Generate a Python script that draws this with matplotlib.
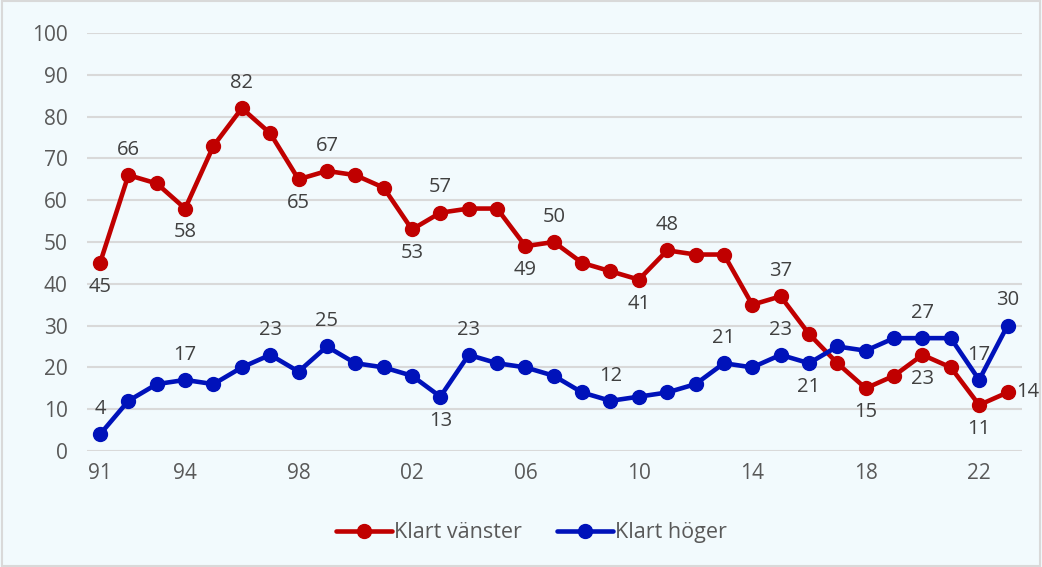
import matplotlib
matplotlib.use("Agg")
import matplotlib.pyplot as plt
from matplotlib.patches import Rectangle

years = list(range(1991, 2024))
left_vals = [45, 66, 64, 58, 73, 82, 76, 65, 67, 66, 63, 53, 57, 58, 58, 49, 50, 45, 43, 41,
             48, 47, 47, 35, 37, 28, 21, 15, 18, 23, 20, 11, 14]
right_vals = [4, 12, 16, 17, 16, 20, 23, 19, 25, 21, 20, 18, 13, 23, 21, 20, 18, 14, 12, 13,
              14, 16, 21, 20, 23, 21, 25, 24, 27, 27, 27, 17, 30]
tick_years = [1991, 1994, 1998, 2002, 2006, 2010, 2014, 2018, 2022]
tick_labels = ["91", "94", "98", "02", "06", "10", "14", "18", "22"]

# labelled points: year -> position
left_labels = {1991: "below", 1992: "above", 1994: "below", 1996: "above", 1998: "below",
               1999: "above", 2002: "below", 2003: "above", 2006: "below", 2007: "above",
               2010: "below", 2011: "above", 2015: "above", 2018: "below", 2020: "below",
               2022: "below", 2023: "right"}
right_labels = {1991: "above", 1994: "above", 1997: "above", 1999: "above", 2003: "below",
                2004: "above", 2009: "above", 2013: "above", 2015: "above", 2016: "below",
                2020: "above", 2022: "above", 2023: "above"}

plt.rcParams['font.family'] = ['Open Sans', 'DejaVu Sans']
bg = "#F2FAFD"
red = "#C00000"
blue = "#0012BA"

fig = plt.figure(figsize=(10.42, 5.67), dpi=100, facecolor=bg)
ax = fig.add_axes([0.0835, 0.2046, 0.897, 0.7372], facecolor=bg)
fig.patches.append(Rectangle((0.002, 0.002), 0.996, 0.996, transform=fig.transFigure,
                             fill=False, edgecolor="#D9D9D9", linewidth=1.5))

ax.plot(years, left_vals, color=red, lw=3.3, marker="o", ms=10, label="Klart vänster",
        solid_capstyle="round", zorder=3)
ax.plot(years, right_vals, color=blue, lw=3.3, marker="o", ms=10, label="Klart höger",
        solid_capstyle="round", zorder=4)

def annotate(vals, labels):
    for y, pos in labels.items():
        v = vals[years.index(y)]
        if pos == "above":
            off, ha, va = (0, 11), "center", "bottom"
        elif pos == "below":
            off, ha, va = (0, -10), "center", "top"
        else:
            off, ha, va = (6, 0), "left", "center"
        ax.annotate(str(v), (y, v), xytext=off, textcoords="offset points",
                    ha=ha, va=va, fontsize=14.5, color="#404040", zorder=5)

annotate(left_vals, left_labels)
annotate(right_vals, right_labels)

ax.set_xlim(1990.54, 2023.5)
ax.set_ylim(0, 100)
ax.set_yticks(range(0, 101, 10))
ax.set_xticks(tick_years)
ax.set_xticklabels(tick_labels)
ax.tick_params(axis="both", length=0, labelsize=15, colors="#595959")
ax.tick_params(axis="x", pad=9)
ax.tick_params(axis="y", pad=14)
ax.grid(axis="y", color="#D9D9D9", lw=1.5)
ax.set_axisbelow(True)
for s in ax.spines.values():
    s.set_visible(False)

leg = fig.legend(loc="center", bbox_to_anchor=(0.51, 0.06), ncol=2, frameon=False,
                 fontsize=15.5, handlelength=2.6, columnspacing=1.6, handletextpad=0.1)
for t in leg.get_texts():
    t.set_color("#595959")

fig.savefig("out.png", dpi=100, facecolor=bg)
